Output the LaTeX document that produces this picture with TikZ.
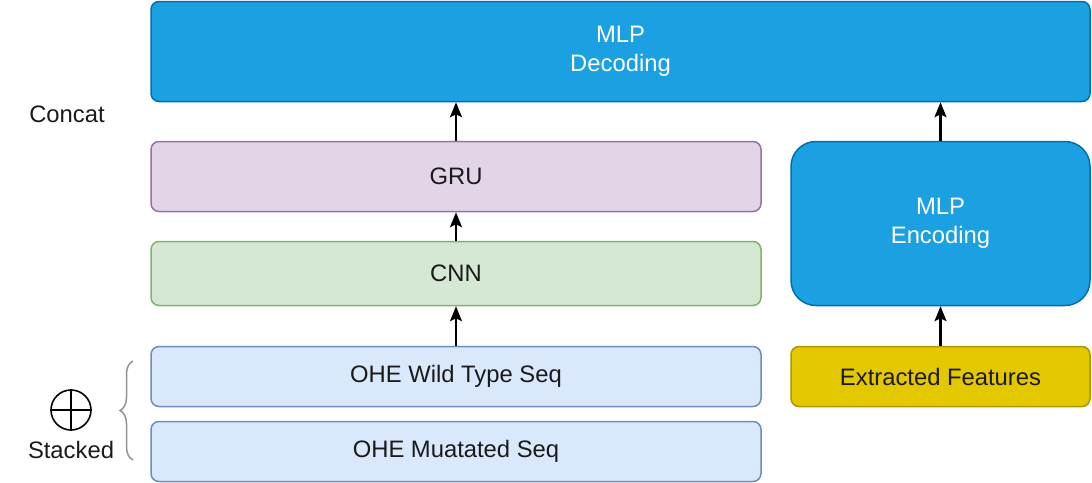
\documentclass[tikz,border=0pt]{standalone}
\usepackage{fontspec}
\setmainfont{Liberation Sans}
\usetikzlibrary{arrows.meta,decorations.pathreplacing}
\definecolor{mlpfill}{HTML}{1BA1E2}
\definecolor{mlpdraw}{HTML}{006EAF}
\definecolor{grufill}{HTML}{E1D5E7}
\definecolor{grudraw}{HTML}{9673A6}
\definecolor{cnnfill}{HTML}{D5E8D4}
\definecolor{cnndraw}{HTML}{82B366}
\definecolor{ohefill}{HTML}{DAE8FC}
\definecolor{ohedraw}{HTML}{6C8EBF}
\definecolor{featfill}{HTML}{E3C800}
\definecolor{featdraw}{HTML}{B09500}
\definecolor{txt}{HTML}{1A1A1A}
\tikzset{
  blk/.style={draw, line width=1.5pt, rounded corners=8pt, inner sep=0pt, align=center, text=txt, font=\fontsize{23.8}{29.5}\selectfont},
  mlpbox/.style={blk, fill=mlpfill, draw=mlpdraw, text=white},
  grubox/.style={blk, fill=grufill, draw=grudraw},
  cnnbox/.style={blk, fill=cnnfill, draw=cnndraw},
  ohebox/.style={blk, fill=ohefill, draw=ohedraw},
  featbox/.style={blk, fill=featfill, draw=featdraw},
  arr/.style={line width=2.2pt, -{Stealth[length=15pt,width=12pt,inset=3pt]}},
  lbl/.style={font=\fontsize{23.8}{29.5}\selectfont, text=txt, inner sep=0pt},
}
\begin{document}
\begin{tikzpicture}[x=1pt,y=-1pt]
\useasboundingbox (0,0) rectangle (1092,482);
\node[mlpbox, minimum width=939pt, minimum height=100pt] (dec) at (620.5,51.5) {MLP\\Decoding};
\node[grubox, minimum width=610pt, minimum height=70pt] (gru) at (456,176.5) {GRU};
\node[cnnbox, minimum width=610pt, minimum height=64pt] (cnn) at (456,273.5) {CNN};
\node[ohebox, minimum width=610pt, minimum height=60pt] (wt) at (456,376.5) {OHE Wild Type Seq};
\node[ohebox, minimum width=610pt, minimum height=60pt] (mut) at (456,451.5) {OHE Muatated Seq};
\node[mlpbox, rounded corners=25pt, minimum width=299pt, minimum height=164pt] (enc) at (940.5,223.5) {MLP\\Encoding};
\node[featbox, minimum width=299pt, minimum height=60pt] (feat) at (940.5,376.5) {Extracted Features};
\node[lbl] (concat) at (67,114) {Concat};
\node[lbl] (stacked) at (71,450) {Stacked};
\node[draw, circle, line width=1.6pt, minimum size=40pt, inner sep=0pt] (plus) at (71,410) {};
\draw[line width=1.6pt] (plus.north) -- (plus.south) (plus.west) -- (plus.east);
\coordinate (bt) at (133,361);
\coordinate (bb) at (133,460);
\draw[draw=gray!85, line width=1.5pt, decorate, decoration={brace, amplitude=13pt}] (bb) -- (bt);
\draw[arr] (wt.north) -- (cnn.south);
\draw[arr] (cnn.north) -- (gru.south);
\draw[arr] (gru.north) -- (gru.north |- dec.south);
\draw[arr] (feat.north) -- (enc.south);
\draw[arr] (enc.north) -- (enc.north |- dec.south);
\end{tikzpicture}
\end{document}
